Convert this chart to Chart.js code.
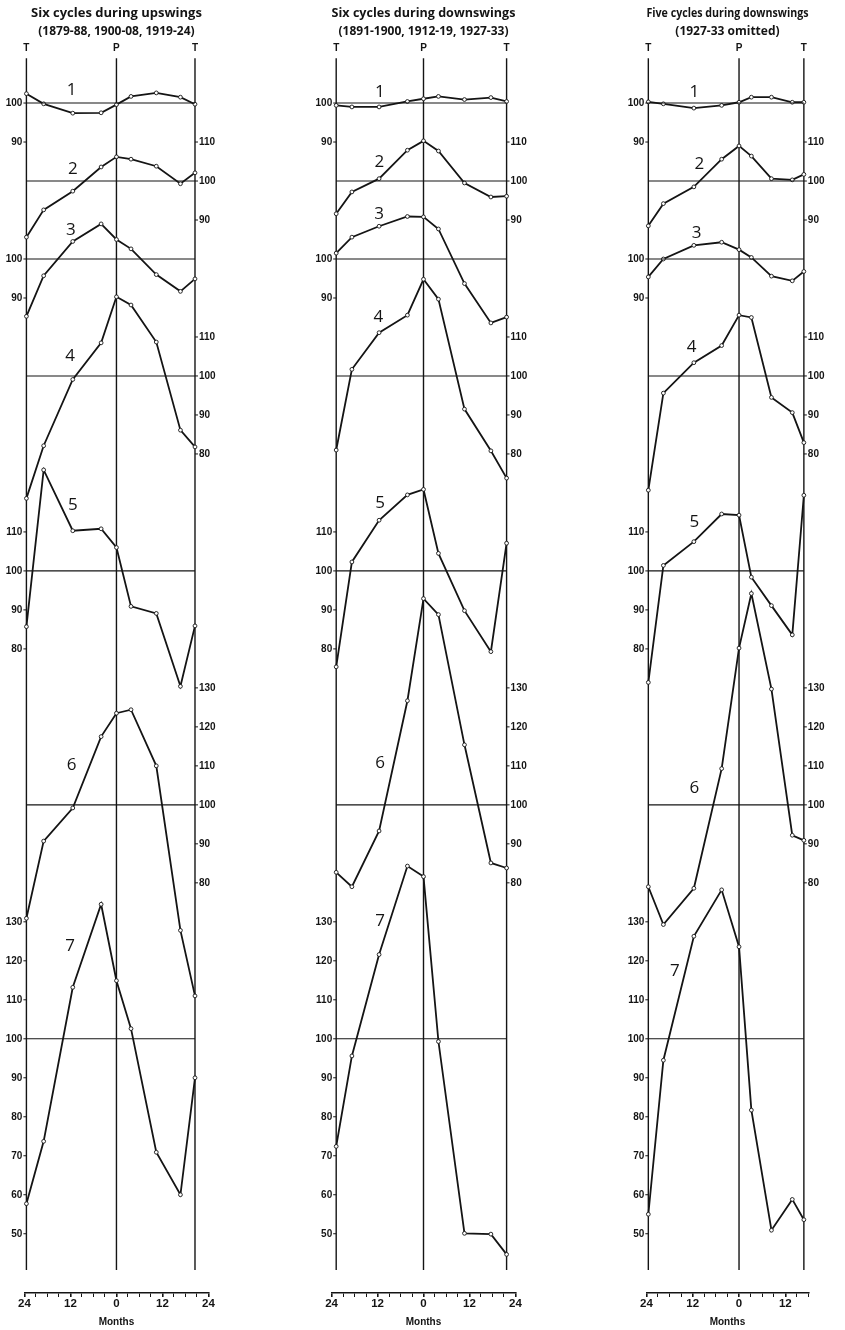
<!DOCTYPE html>
<html>
<head>
<meta charset="utf-8">
<script src="https://cdn.jsdelivr.net/npm/chart.js@4.4.0/dist/chart.umd.min.js"></script>
<style>
  body { margin: 0; background: #fff; width: 845px; height: 1330px; position: relative; overflow: hidden; }
  canvas { position: absolute; top: 0; }
</style>
</head>
<body>
<canvas id="up" width="224" height="1330" style="left:0px"></canvas>
<canvas id="down" width="256" height="1330" style="left:300px"></canvas>
<canvas id="five" width="237" height="1330" style="left:608px"></canvas>
<script>
// months from reference peak (P = 0) of the nine cycle stages, T ... P ... T
const stageMonthsUp = [-23.5, -19, -11.4, -4, 0, 3.8, 10.4, 16.7, 20.5];
const stageMonthsDown = [-22.8, -18.7, -11.6, -4.2, 0, 3.9, 10.7, 17.6, 21.7];
const stageMonthsFive = [-23.5, -19.6, -11.7, -4.5, 0, 3.2, 8.4, 13.8, 16.8];

// series 1..7, relatives (cycle base = 100)
const upswings = [
  [102.4, 99.8, 97.4, 97.5, 99.6, 101.7, 102.6, 101.5, 99.7],
  [85.6, 92.6, 97.4, 103.6, 106.2, 105.6, 103.8, 99.3, 102.1],
  [85.3, 95.7, 104.5, 109, 105, 102.6, 96, 91.7, 94.9],
  [68.6, 82.1, 99.1, 108.5, 120.3, 118.2, 108.7, 86.1, 81.8],
  [85.7, 125.9, 110.3, 110.8, 106, 90.9, 89.1, 70.4, 85.9],
  [70.9, 90.7, 99.2, 117.5, 123.5, 124.4, 110, 67.8, 51],
  [57.7, 73.7, 113.2, 134.5, 114.9, 102.6, 70.9, 60, 90]
];
const downswings = [
  [99.4, 99, 99, 100.4, 101.1, 101.7, 100.9, 101.4, 100.4],
  [91.6, 97.2, 100.6, 107.9, 110.3, 107.7, 99.5, 95.9, 96.1],
  [101.5, 105.6, 108.4, 110.9, 110.8, 107.7, 93.7, 83.6, 85.1],
  [81, 101.7, 111.1, 115.6, 124.8, 119.7, 91.5, 80.8, 73.8],
  [75.4, 102.3, 113, 119.5, 120.9, 104.5, 89.8, 79.3, 107.1],
  [82.7, 79, 93.3, 126.7, 152.9, 148.8, 115.4, 85.1, 83.8],
  [72.4, 95.6, 121.6, 144.3, 141.6, 99.3, 50.1, 49.9, 44.7]
];
const fiveDownswings = [
  [100.3, 99.8, 98.7, 99.4, 100.2, 101.5, 101.5, 100.2, 100.2],
  [88.5, 94.2, 98.5, 105.6, 109, 106.4, 100.6, 100.3, 101.7],
  [95.4, 100, 103.5, 104.3, 102.4, 100.4, 95.6, 94.4, 96.8],
  [70.7, 95.6, 103.4, 107.8, 115.6, 115, 94.5, 90.6, 82.9],
  [71.4, 101.4, 107.5, 114.6, 114.3, 98.4, 91.1, 83.6, 119.4],
  [79, 69.3, 78.6, 109.3, 140.2, 154.2, 129.7, 92.2, 90.9],
  [55, 94.5, 126.3, 138.2, 123.6, 81.7, 50.9, 58.8, 53.6]
];

// scale labels shown for each series, and on which side
const tickValues = [
  [100, 90],
  [110, 100, 90],
  [100, 90],
  [110, 100, 90, 80],
  [110, 100, 90, 80],
  [130, 120, 110, 100, 90, 80],
  [130, 120, 110, 100, 90, 80, 70, 60, 50]
];
const tickSide = ['left', 'right', 'left', 'right', 'left', 'right', 'left'];

// where the series numbers sit (month, value on that series' scale)
const numberSpotsUp = [[-11.7, 103.3], [-11.4, 103.1], [-11.9, 107.4], [-12.1, 105.1], [-11.4, 116.9], [-11.7, 110.2], [-12.1, 123.7]];
const numberSpotsDown = [[-11.4, 102.9], [-11.5, 104.9], [-11.6, 111.5], [-11.8, 115.1], [-11.3, 117.5], [-11.3, 110.6], [-11.3, 130.1]];
const numberSpotsFive = [[-11.6, 102.9], [-10.3, 104.4], [-11, 106.7], [-12.3, 107.5], [-11.6, 112.4], [-11.6, 104.2], [-16.6, 117.4]];

// vertical stacking of the seven scales (units below series 1)
const rowOffsets = [0, 20, 40, 70, 120, 180, 240];
const topUnits = 11.5;
const unitsTall = 316.7;

const ink = '#141414';

const framePlugin = {
  id: 'frame',
  beforeDatasetsDraw(chart, args, opts) {
    const { ctx, chartArea, scales } = chart;
    const yEnd = scales.y7.getPixelForValue(opts.lineEnd);
    ctx.save();
    ctx.strokeStyle = ink;
    ctx.lineWidth = 1.4;
    [opts.tLeft, 0, opts.tRight].forEach(m => {
      const px = scales.x.getPixelForValue(m);
      ctx.beginPath();
      ctx.moveTo(px, chartArea.top);
      ctx.lineTo(px, yEnd);
      ctx.stroke();
    });
    ctx.restore();
  },
  afterDatasetsDraw(chart, args, opts) {
    const { ctx, scales } = chart;
    ctx.save();
    ctx.strokeStyle = ink;
    ctx.fillStyle = ink;
    ctx.lineWidth = 1;
    ctx.textBaseline = 'middle';
    ctx.font = 'bold 10px "Liberation Sans"';
    tickValues.forEach((vals, i) => {
      const sc = scales['y' + (i + 1)];
      const left = tickSide[i] === 'left';
      const px = scales.x.getPixelForValue(left ? opts.tLeft : opts.tRight);
      ctx.textAlign = left ? 'right' : 'left';
      vals.forEach(v => {
        const py = sc.getPixelForValue(v);
        ctx.beginPath();
        ctx.moveTo(px, py);
        ctx.lineTo(left ? px - 3 : px + 3, py);
        ctx.stroke();
        ctx.fillText(String(v), left ? px - 4 : px + 4, py + 0.5);
      });
    });
    ctx.font = '17px "Open Sans"';
    ctx.textAlign = 'center';
    opts.numbers.forEach((spot, i) => {
      const sc = scales['y' + (i + 1)];
      ctx.fillText(String(i + 1), scales.x.getPixelForValue(spot[0]), sc.getPixelForValue(spot[1]));
    });
    ctx.restore();
  }
};

function buildChart(id, months, rows, cfg) {
  const tLeft = months[0];
  const tRight = months[months.length - 1];
  const datasets = [];
  rows.forEach((vals, i) => {
    const axis = 'y' + (i + 1);
    datasets.push({
      data: [{ x: tLeft, y: 100 }, { x: tRight, y: 100 }],
      yAxisID: axis,
      borderColor: ink,
      borderWidth: 1.1,
      pointRadius: 0,
      clip: false
    });
    datasets.push({
      data: months.map((m, j) => ({ x: m, y: vals[j] })),
      yAxisID: axis,
      borderColor: ink,
      borderWidth: 1.8,
      pointRadius: 1.9,
      pointBorderWidth: 0.9,
      pointBackgroundColor: '#fff',
      pointBorderColor: ink,
      clip: false
    });
  });

  const scales = {
    x: {
      type: 'linear',
      position: 'bottom',
      min: -24,
      max: cfg.xMax,
      afterFit: s => { s.height = 37; },
      ticks: {
        stepSize: 3,
        autoSkip: false,
        maxRotation: 0,
        padding: 0,
        color: ink,
        font: { family: 'Liberation Sans', size: 11.5, weight: 'bold' },
        callback: v => (v % 12 === 0 ? String(Math.abs(v)) : '')
      },
      grid: {
        drawOnChartArea: false,
        tickLength: 4,
        color: ink,
        lineWidth: c => (c.tick && c.tick.value % 12 === 0 ? 1.6 : 1)
      },
      border: { color: ink, width: 1.5 },
      title: {
        display: true,
        text: 'Months',
        color: ink,
        font: { family: 'Liberation Sans', size: 10, weight: 'bold' },
        padding: { top: 0, bottom: 2 }
      }
    },
    xt: {
      type: 'linear',
      position: 'top',
      min: -24,
      max: cfg.xMax,
      afterBuildTicks: s => { s.ticks = [{ value: tLeft }, { value: 0 }, { value: tRight }]; },
      afterFit: s => { s.height = 19.2; },
      ticks: {
        autoSkip: false,
        maxRotation: 0,
        padding: 4,
        color: ink,
        font: { family: 'Liberation Sans', size: 10, weight: 'bold' },
        callback: (v, i) => (i === 1 ? 'P' : 'T')
      },
      grid: { display: false, drawTicks: false, tickLength: 0 },
      border: { display: false }
    }
  };
  rowOffsets.forEach((off, i) => {
    const max = 100 + topUnits + off;
    scales['y' + (i + 1)] = { type: 'linear', display: false, min: max - unitsTall, max: max };
  });

  new Chart(document.getElementById(id), {
    type: 'line',
    data: { datasets },
    options: {
      responsive: false,
      animation: false,
      devicePixelRatio: 1,
      layout: { padding: { left: cfg.padLeft, right: cfg.padRight, top: 0, bottom: 0 } },
      scales,
      plugins: {
        legend: { display: false },
        tooltip: { enabled: false },
        title: {
          display: true,
          text: cfg.title,
          color: ink,
          font: { family: 'Open Sans', size: 13, weight: 'bold', lineHeight: 1.2 },
          padding: { top: 5, bottom: 2 }
        },
        subtitle: {
          display: true,
          text: cfg.subtitle,
          color: ink,
          font: { family: 'Open Sans', size: 12, weight: 'bold', lineHeight: 1.2 },
          padding: { top: 2, bottom: 0 }
        },
        frame: { tLeft, tRight, lineEnd: 40.7, numbers: cfg.numbers }
      }
    },
    plugins: [framePlugin]
  });
}

buildChart('up', stageMonthsUp, upswings, {
  title: 'Six cycles during upswings',
  subtitle: '(1879-88, 1900-08, 1919-24)',
  xMax: 24, padLeft: 24.5, padRight: 15.6, numbers: numberSpotsUp
});
buildChart('down', stageMonthsDown, downswings, {
  title: 'Six cycles during downswings',
  subtitle: '(1891-1900, 1912-19, 1927-33)',
  xMax: 24, padLeft: 31.6, padRight: 40.6, numbers: numberSpotsDown
});
buildChart('five', stageMonthsFive, fiveDownswings, {
  title: 'Five cycles during downswings',
  subtitle: '(1927-33 omitted)',
  xMax: 18, padLeft: 38.4, padRight: 36.5, numbers: numberSpotsFive
});
</script>
</body>
</html>
